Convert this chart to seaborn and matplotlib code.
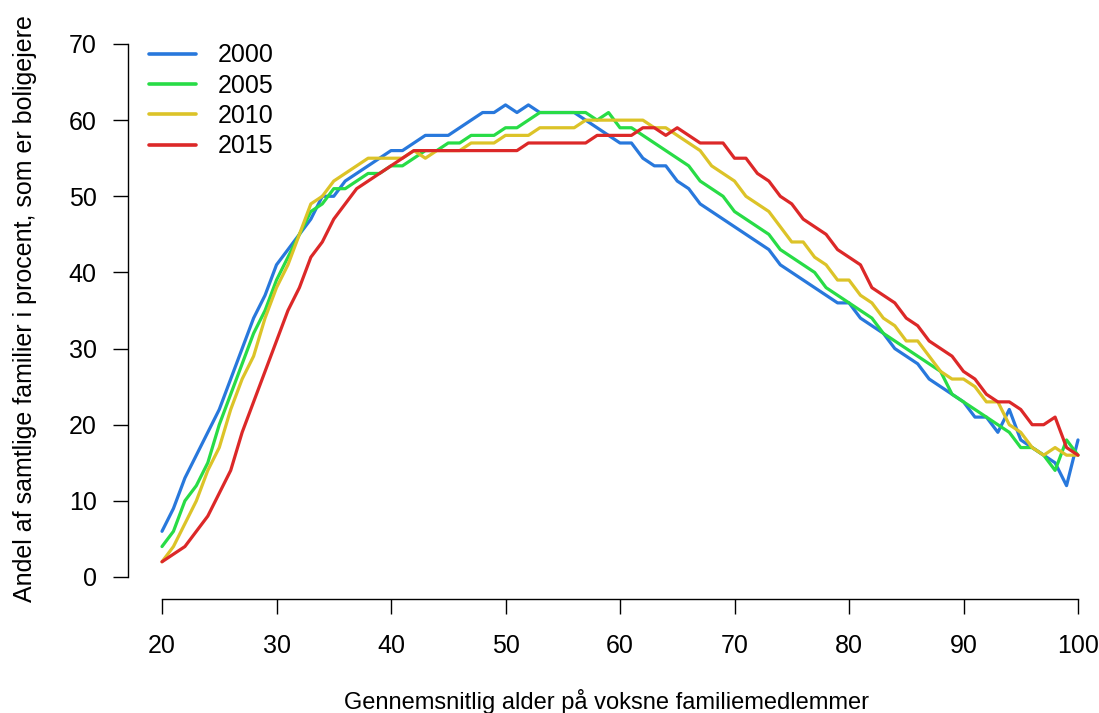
import numpy as np
import pandas as pd
import matplotlib
matplotlib.use("Agg")
import matplotlib.pyplot as plt
import seaborn as sns

ages = list(range(20, 101))

y2000 = [6, 9, 13, 16, 19, 22, 26, 30, 34, 37,
         41, 43, 45, 47, 50, 50, 52, 53, 54, 55,
         56, 56, 57, 58, 58, 58, 59, 60, 61, 61,
         62, 61, 62, 61, 61, 61, 61, 60, 59, 58,
         57, 57, 55, 54, 54, 52, 51, 49, 48, 47,
         46, 45, 44, 43, 41, 40, 39, 38, 37, 36,
         36, 34, 33, 32, 30, 29, 28, 26, 25, 24,
         23, 21, 21, 19, 22, 18, 17, 16, 15, 12,
         18]

y2005 = [4, 6, 10, 12, 15, 20, 24, 28, 32, 35,
         39, 42, 45, 48, 49, 51, 51, 52, 53, 53,
         54, 54, 55, 56, 56, 57, 57, 58, 58, 58,
         59, 59, 60, 61, 61, 61, 61, 61, 60, 61,
         59, 59, 58, 57, 56, 55, 54, 52, 51, 50,
         48, 47, 46, 45, 43, 42, 41, 40, 38, 37,
         36, 35, 34, 32, 31, 30, 29, 28, 27, 24,
         23, 22, 21, 20, 19, 17, 17, 16, 14, 18,
         16]

y2010 = [2, 4, 7, 10, 14, 17, 22, 26, 29, 34,
         38, 41, 45, 49, 50, 52, 53, 54, 55, 55,
         55, 55, 56, 55, 56, 56, 56, 57, 57, 57,
         58, 58, 58, 59, 59, 59, 59, 60, 60, 60,
         60, 60, 60, 59, 59, 58, 57, 56, 54, 53,
         52, 50, 49, 48, 46, 44, 44, 42, 41, 39,
         39, 37, 36, 34, 33, 31, 31, 29, 27, 26,
         26, 25, 23, 23, 20, 19, 17, 16, 17, 16,
         16]

y2015 = [2, 3, 4, 6, 8, 11, 14, 19, 23, 27,
         31, 35, 38, 42, 44, 47, 49, 51, 52, 53,
         54, 55, 56, 56, 56, 56, 56, 56, 56, 56,
         56, 56, 57, 57, 57, 57, 57, 57, 58, 58,
         58, 58, 59, 59, 58, 59, 58, 57, 57, 57,
         55, 55, 53, 52, 50, 49, 47, 46, 45, 43,
         42, 41, 38, 37, 36, 34, 33, 31, 30, 29,
         27, 26, 24, 23, 23, 22, 20, 20, 21, 17,
         16]

years = ["2000", "2005", "2010", "2015"]
colors = ["#2878DC", "#28DC46", "#DCC328", "#DC2828"]
x_ticks = [20, 30, 40, 50, 60, 70, 80, 90, 100]
y_ticks = [0, 10, 20, 30, 40, 50, 60, 70]
xlabel = "Gennemsnitlig alder på voksne familiemedlemmer"
ylabel = "Andel af samtlige familier i procent, som er boligejere"

series = {"2000": y2000, "2005": y2005, "2010": y2010, "2015": y2015}
df = pd.concat(
    [pd.DataFrame({"alder": ages, "andel": vals, "aar": yr}) for yr, vals in series.items()],
    ignore_index=True,
)

sns.set_style("white")
plt.rcParams["font.family"] = ["Liberation Sans", "DejaVu Sans"]
plt.rcParams["text.color"] = "black"
plt.rcParams["axes.labelcolor"] = "black"
plt.rcParams["xtick.color"] = "black"
plt.rcParams["ytick.color"] = "black"

W, H = 1099, 713
fig = plt.figure(figsize=(W / 100, H / 100), dpi=100)
left_px, right_px, bottom_px, top_px = 128, 1090, 599, 35
ax = fig.add_axes([left_px / W, 1 - bottom_px / H,
                   (right_px - left_px) / W, (bottom_px - top_px) / H])

sns.lineplot(data=df, x="alder", y="andel", hue="aar",
             palette=dict(zip(years, colors)), linewidth=2.3, ax=ax)

xpx = (1078 - 162) / 80.0
ypx = (577 - 44) / 70.0
ax.set_xlim(20 - (162 - left_px) / xpx, 100 + (right_px - 1078) / xpx)
ax.set_ylim(-(bottom_px - 577) / ypx, 70 + (44 - top_px) / ypx)

for s in ["top", "right"]:
    ax.spines[s].set_visible(False)
ax.spines["left"].set_bounds(0, 70)
ax.spines["bottom"].set_bounds(20, 100)
for s in ["left", "bottom"]:
    ax.spines[s].set_color("black")
    ax.spines[s].set_linewidth(1.0)

ax.set_xticks(x_ticks)
ax.set_yticks(y_ticks)
ax.tick_params(axis="both", which="major", direction="out", length=10.5, width=1.0,
               color="black", labelsize=18, labelcolor="black",
               left=True, bottom=True)
ax.tick_params(axis="y", pad=12)
ax.tick_params(axis="x", pad=15)

ax.set_xlabel(xlabel, fontsize=17, color="black")
ax.set_ylabel(ylabel, fontsize=18, color="black")
ax.xaxis.set_label_coords(606.5 / W, 1 - 689 / H, transform=fig.transFigure)
ax.yaxis.set_label_coords(37 / W, 1 - 308.5 / H, transform=fig.transFigure)
ax.grid(False)

handles, labels = ax.get_legend_handles_labels()
leg = ax.legend(handles, labels, loc="upper left", bbox_to_anchor=(126 / W, 1 - 21 / H),
                bbox_transform=fig.transFigure, frameon=False, fontsize=18,
                handlelength=1.88, handletextpad=0.88, labelspacing=0.25, title=None)
for t in leg.get_texts():
    t.set_color("black")
for ln in leg.get_lines():
    ln.set_linewidth(2.6)

fig.savefig("out.png", dpi=100)
